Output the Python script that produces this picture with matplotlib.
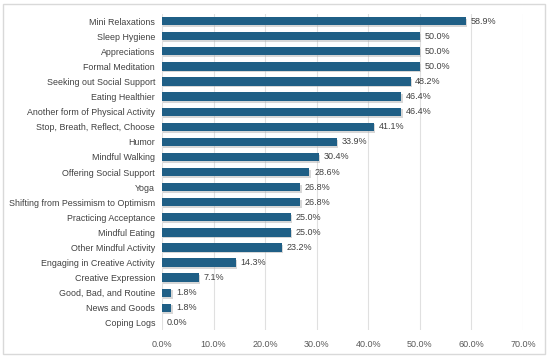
import numpy as np
import matplotlib.pyplot as plt
from matplotlib.patches import Rectangle

plt.rcParams['font.family'] = ['Liberation Sans', 'DejaVu Sans']

categories = ['Mini Relaxations', 'Sleep Hygiene', 'Appreciations', 'Formal Meditation',
              'Seeking out Social Support', 'Eating Healthier', 'Another form of Physical Activity',
              'Stop, Breath, Reflect, Choose', 'Humor', 'Mindful Walking', 'Offering Social Support',
              'Yoga', 'Shifting from Pessimism to Optimism', 'Practicing Acceptance', 'Mindful Eating',
              'Other Mindful Activity', 'Engaging in Creative Activity', 'Creative Expression',
              'Good, Bad, and Routine', 'News and Goods', 'Coping Logs']
values = [58.9, 50.0, 50.0, 50.0, 48.2, 46.4, 46.4, 41.1, 33.9, 30.4, 28.6,
          26.8, 26.8, 25.0, 25.0, 23.2, 14.3, 7.1, 1.8, 1.8, 0.0]
xticks = [0, 10, 20, 30, 40, 50, 60, 70]

fig = plt.figure(figsize=(5.5, 3.58), dpi=100)
fig.patches.append(Rectangle((0.006, 0.012), 0.985, 0.978, transform=fig.transFigure,
                             fill=False, edgecolor='#d9d9d9', linewidth=1.0))
ax = fig.add_axes([0.2945, 0.077, 0.6565, 0.885])

y = np.arange(len(categories))
# drop shadow under each bar
ax.barh(y + 0.12, values, height=0.55, left=0.25, color='#b0b0b0', alpha=0.5, zorder=2)
ax.barh(y, values, height=0.55, color='#1f5f86', zorder=3)

for yi, v in zip(y, values):
    ax.text(v + 0.9, yi, f'{v:.1f}%', va='center', ha='left', fontsize=6.5, color='#404040')

ax.set_ylim(len(categories) - 0.5, -0.5)
ax.set_xlim(0, 70)
ax.set_xticks(xticks)
ax.set_xticklabels([f'{t:.1f}%' for t in xticks], fontsize=6.5, color='#595959')
ax.set_yticks(y)
ax.set_yticklabels(categories, fontsize=6.4, color='#404040')
ax.tick_params(axis='y', length=0, pad=5)
ax.tick_params(axis='x', length=0, pad=7)
ax.xaxis.grid(True, color='#e0e0e0', linewidth=0.8, zorder=0)
ax.set_axisbelow(True)
for s in ax.spines.values():
    s.set_visible(False)

fig.savefig('out.png', dpi=100)
